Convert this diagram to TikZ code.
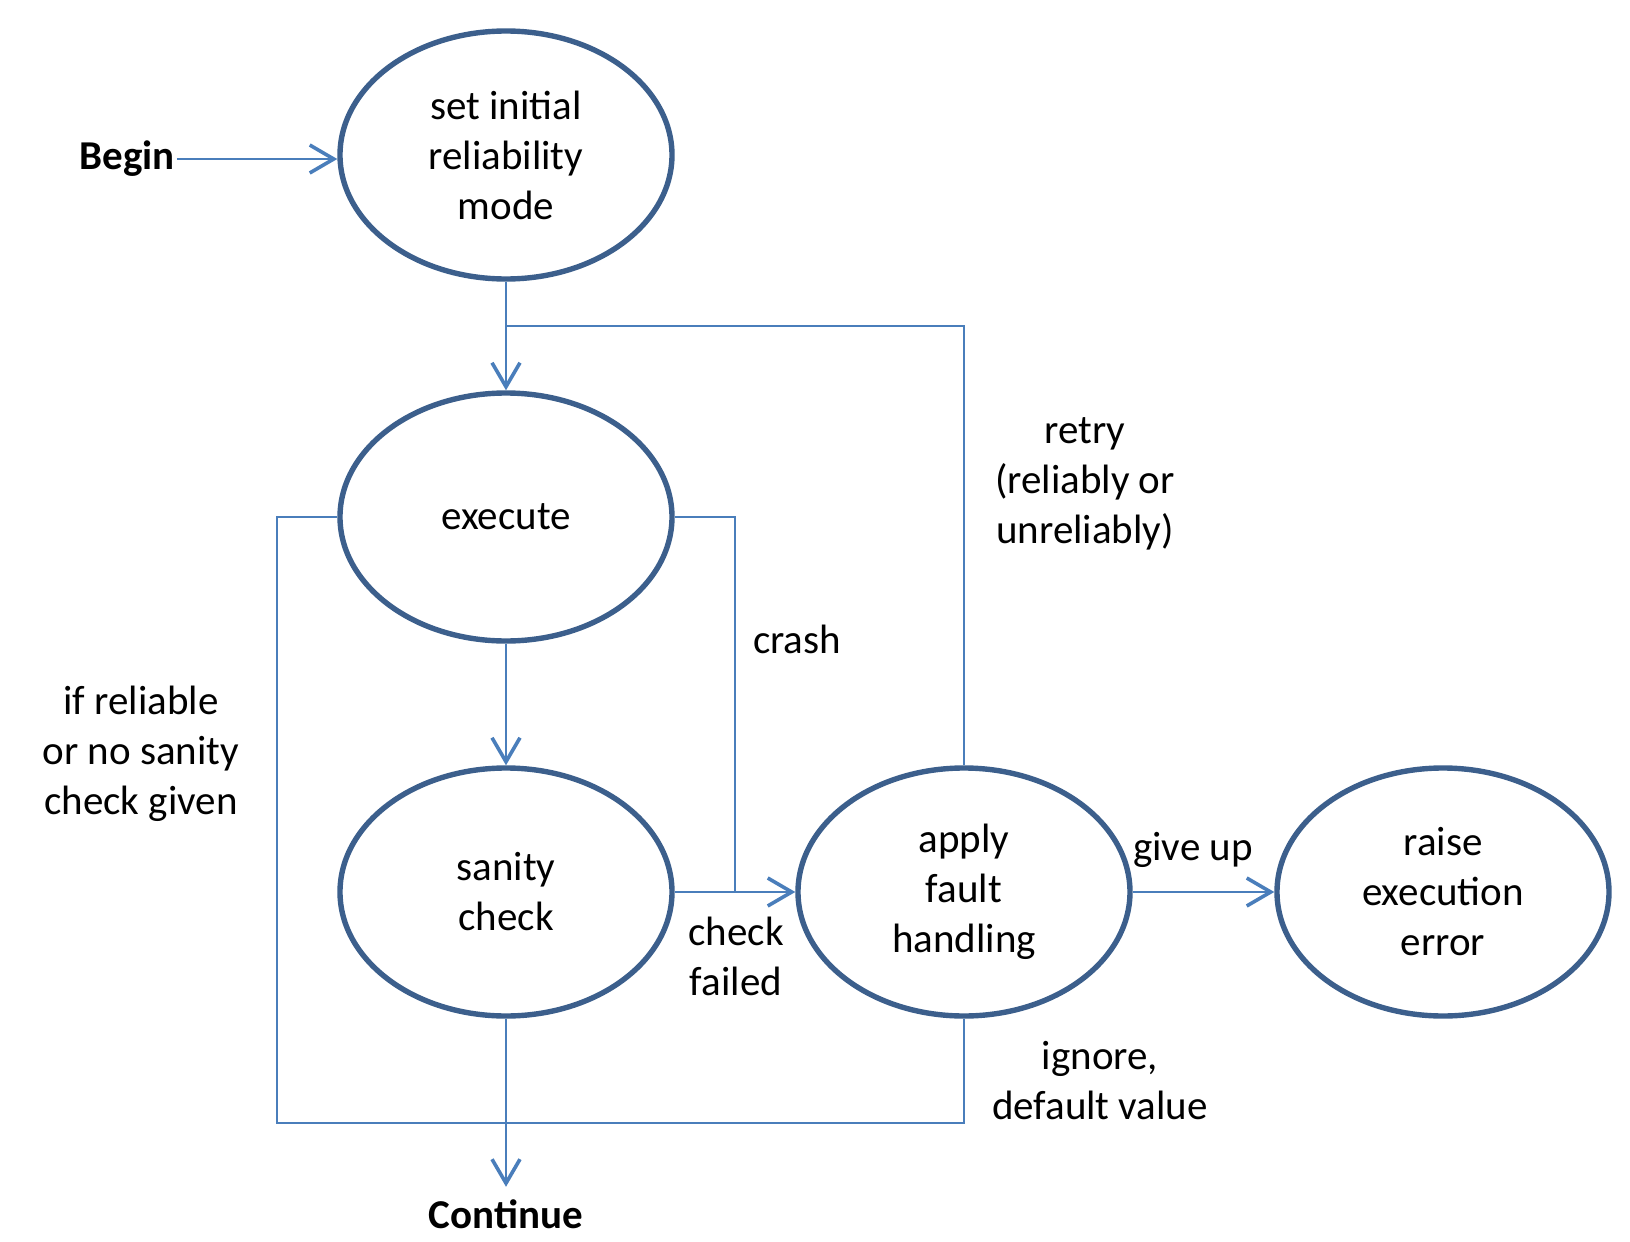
\documentclass[tikz,border=0pt]{standalone}
\usepackage{fontspec}
\setmainfont{Carlito}
\usetikzlibrary{shapes.geometric,arrows.meta}
\definecolor{rimblue}{RGB}{60,95,140}
\definecolor{wireblue}{RGB}{74,126,187}
\newcommand\flowfont{\fontsize{20.5}{25}\selectfont}
\tikzset{
  state/.style={ellipse,draw=rimblue,line width=2.7pt,minimum width=166pt,minimum height=124pt,inner sep=0pt,align=center,font=\flowfont},
  lbl/.style={align=center,font=\flowfont,inner sep=1pt},
  link/.style={draw=wireblue,line width=1.1pt},
}
\begin{document}
\begin{tikzpicture}[x=0.5pt,y=-0.5pt,>={Straight Barb[length=12pt,width=14pt,line width=1.8pt]}]
\useasboundingbox (0,0) rectangle (1630,1242);
\node[state] (init) at (506,155) {set initial\\reliability\\mode};
\node[state] (exec) at (506,517) {execute};
\node[state] (sanity) at (506,892) {sanity\\check};
\node[state] (apply) at (964,892) {apply\\fault\\handling};
\node[state] (raise) at (1443,892) {raise\\execution\\error};
\node[lbl,font=\flowfont\bfseries] (begin) at (127,159) {Begin};
\node[lbl,font=\flowfont\bfseries,anchor=base] (cont) at (506,1228) {Continue};
\coordinate (split) at (506,326);
\coordinate (crashbend) at (735,892);
\coordinate (loopcorner) at (277,1123);
% edges
\draw[link,->] (begin) -- (begin -| init.west);
\draw[link,->] (init) -- (exec);
\draw[link] (apply.north) |- (split);
\draw[link,->] (exec) -- (sanity);
\draw[link] (exec.east) -| (crashbend);
\draw[link,->] (sanity) -- (apply);
\draw[link,->] (apply) -- (raise);
\draw[link] (exec.west) -| (loopcorner) -| (apply.south);
\draw[link,->,shorten >=5pt] (sanity) -- (cont);
% edge labels
\node[lbl] (retry) at (1085,484) {retry\\(reliably or\\unreliably)};
\node[lbl] (crash) at (797,639) {crash};
\node[lbl] (ifrel) at (141,754) {if reliable\\or no sanity\\check given};
\node[lbl] (failed) at (736,956) {check\\failed};
\node[lbl] (giveup) at (1193,850) {give up};
\node[lbl] (ignore) at (1100,1081) {ignore,\\default value};
\end{tikzpicture}
\end{document}
